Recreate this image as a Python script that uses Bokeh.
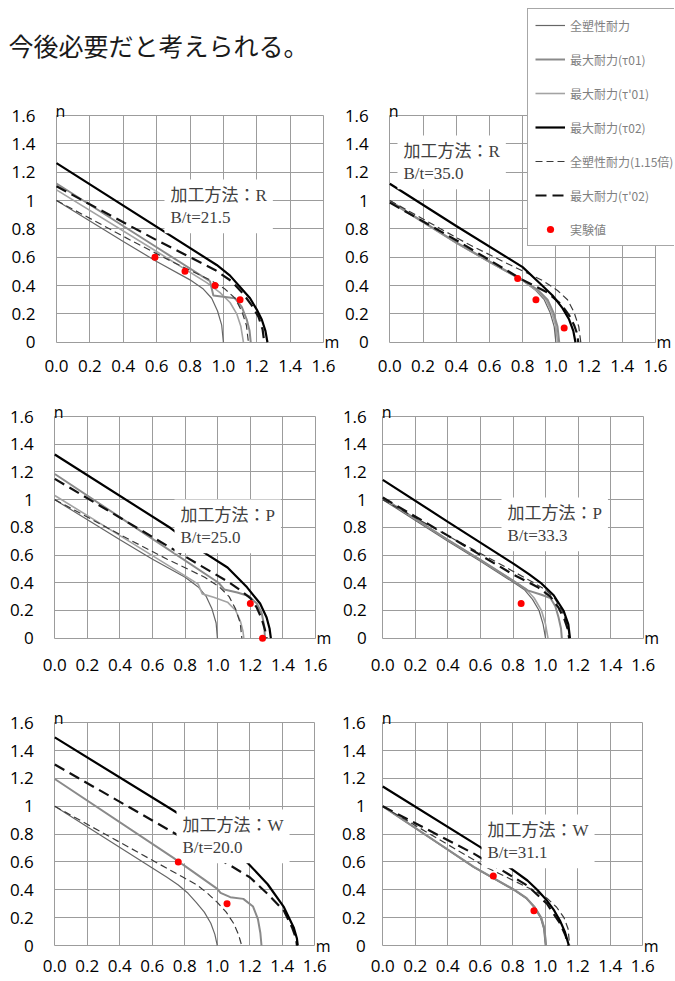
from bokeh.plotting import figure
from bokeh.models import Range1d, FixedTicker, Label, Legend, LegendItem
from bokeh.layouts import column, row
from bokeh.embed import file_html
from bokeh.resources import INLINE

# ---------------- tick labels / texts ----------------
TICKS = [0, 0.2, 0.4, 0.6, 0.8, 1.0, 1.2, 1.4, 1.6]
X_TICK_LABELS = ["0.0", "0.2", "0.4", "0.6", "0.8", "1.0", "1.2", "1.4", "1.6"]
Y_TICK_LABELS = ["0", "0.2", "0.4", "0.6", "0.8", "1", "1.2", "1.4", "1.6"]
SERIES_KEYS = ["full", "t01", "t01p", "t02", "full115", "t02p"]
LEGEND_LABELS = ["全塑性耐力", "最大耐力(τ01)", "最大耐力(τ'01)", "最大耐力(τ02)",
                 "全塑性耐力(1.15倍)", "最大耐力(τ'02)", "実験値"]
METHODS = ["R", "R", "P", "P", "W", "W"]
BT_VALUES = ["21.5", "35.0", "25.0", "33.3", "20.0", "31.1"]
TOP_TEXT = "今後必要だと考えられる。"

# ---------------- panel 1 : R, B/t=21.5 ----------------
p1_full_m = [0, 0.4, 0.6, 0.8, 0.88, 0.93, 0.965, 0.99, 1.0]
p1_full_n = [1.0, 0.71, 0.57, 0.44, 0.375, 0.31, 0.22, 0.12, 0]
p1_t01_m = [0, 0.6, 0.92, 0.94, 1.07, 1.11, 1.14, 1.157, 1.164]
p1_t01_n = [1.12, 0.67, 0.43, 0.33, 0.31, 0.25, 0.16, 0.08, 0]
p1_t01p_m = [0, 0.6, 0.9, 0.98, 1.04, 1.08, 1.105, 1.12]
p1_t01p_n = [1.075, 0.64, 0.42, 0.35, 0.28, 0.2, 0.11, 0]
p1_t02_m = [0, 0.96, 1.04, 1.1, 1.16, 1.2, 1.23, 1.252, 1.264]
p1_t02_n = [1.264, 0.545, 0.47, 0.39, 0.31, 0.23, 0.16, 0.08, 0]
p1_full115_m = [0, 0.46, 0.69, 0.92, 1.01, 1.07, 1.11, 1.138, 1.15]
p1_full115_n = [1.0, 0.71, 0.57, 0.44, 0.375, 0.31, 0.22, 0.12, 0]
p1_t02p_m = [0, 0.6, 0.8, 0.95, 1.05, 1.12, 1.17, 1.21, 1.235, 1.245]
p1_t02p_n = [1.10, 0.72, 0.6, 0.51, 0.43, 0.34, 0.26, 0.18, 0.09, 0]
p1_exp_m = [0.59, 0.77, 0.95, 1.1]
p1_exp_n = [0.6, 0.5, 0.4, 0.3]

# ---------------- panel 2 : R, B/t=35.0 ----------------
p2_full_m = [0, 0.4, 0.6, 0.8, 0.88, 0.93, 0.965, 0.99, 1.0]
p2_full_n = [1.0, 0.70, 0.565, 0.435, 0.365, 0.3, 0.21, 0.11, 0]
p2_t01_m = [0, 0.4, 0.6, 0.8, 0.89, 0.95, 0.985, 1.01, 1.02]
p2_t01_n = [0.995, 0.705, 0.57, 0.44, 0.37, 0.3, 0.21, 0.11, 0]
p2_t01p_m = [0, 0.4, 0.6, 0.8, 0.885, 0.94, 0.975, 1.0, 1.01]
p2_t01p_n = [0.99, 0.70, 0.565, 0.435, 0.365, 0.3, 0.21, 0.11, 0]
p2_t02_m = [0, 0.4, 0.8, 0.9, 0.98, 1.04, 1.08, 1.105, 1.118]
p2_t02_n = [1.118, 0.82, 0.53, 0.42, 0.33, 0.24, 0.16, 0.08, 0]
p2_full115_m = [0, 0.46, 0.69, 0.92, 1.01, 1.07, 1.11, 1.138, 1.15]
p2_full115_n = [1.0, 0.70, 0.565, 0.435, 0.365, 0.3, 0.21, 0.11, 0]
p2_t02p_m = [0, 0.4, 0.8, 0.95, 1.03, 1.08, 1.11, 1.128, 1.135]
p2_t02p_n = [0.985, 0.72, 0.44, 0.35, 0.27, 0.19, 0.12, 0.06, 0]
p2_exp_m = [0.77, 0.88, 1.05]
p2_exp_n = [0.45, 0.3, 0.1]

# ---------------- panel 3 : P, B/t=25.0 ----------------
p3_full_m = [0, 0.4, 0.6, 0.8, 0.88, 0.93, 0.965, 0.99, 0.998]
p3_full_n = [1.0, 0.71, 0.57, 0.44, 0.37, 0.30, 0.21, 0.11, 0]
p3_t01_m = [0, 0.5, 1.005, 1.04, 1.12, 1.19, 1.24, 1.27, 1.285, 1.29]
p3_t01_n = [1.185, 0.795, 0.40, 0.352, 0.33, 0.305, 0.25, 0.18, 0.09, 0]
p3_t01p_m = [0, 0.4, 0.8, 0.88, 0.905, 0.975, 1.06, 1.11, 1.14, 1.155, 1.16]
p3_t01p_n = [1.03, 0.74, 0.45, 0.39, 0.32, 0.295, 0.26, 0.2, 0.12, 0.05, 0]
p3_t02_m = [0, 0.71, 0.9, 1.06, 1.18, 1.26, 1.30, 1.318, 1.326]
p3_t02_n = [1.326, 0.795, 0.63, 0.51, 0.367, 0.25, 0.15, 0.07, 0]
p3_full115_m = [0, 0.46, 0.69, 0.92, 1.01, 1.07, 1.11, 1.138, 1.148]
p3_full115_n = [1.0, 0.71, 0.57, 0.44, 0.37, 0.30, 0.21, 0.11, 0]
p3_t02p_m = [0, 0.6, 0.9, 1.06, 1.14, 1.2, 1.24, 1.27, 1.29, 1.3]
p3_t02p_n = [1.15, 0.73, 0.52, 0.41, 0.345, 0.29, 0.22, 0.14, 0.06, 0]
p3_exp_m = [1.2, 1.275]
p3_exp_n = [0.25, 0.0]

# ---------------- panel 4 : P, B/t=33.3 ----------------
p4_full_m = [0, 0.4, 0.6, 0.8, 0.87, 0.92, 0.96, 0.985, 1.0]
p4_full_n = [1.0, 0.70, 0.555, 0.405, 0.35, 0.28, 0.2, 0.1, 0]
p4_t01_m = [0, 0.4, 0.6, 0.8, 0.89, 0.97, 1.03, 1.06, 1.08, 1.095, 1.1]
p4_t01_n = [1.013, 0.71, 0.565, 0.415, 0.345, 0.315, 0.29, 0.23, 0.15, 0.07, 0]
p4_t01p_m = [0, 0.4, 0.6, 0.8, 0.88, 0.93, 0.975, 1.0, 1.015]
p4_t01p_n = [1.013, 0.71, 0.565, 0.415, 0.355, 0.29, 0.2, 0.1, 0]
p4_t02_m = [0, 0.4, 0.8, 0.9, 0.97, 1.05, 1.11, 1.14, 1.15]
p4_t02_n = [1.143, 0.84, 0.54, 0.46, 0.40, 0.31, 0.2, 0.1, 0]
p4_full115_m = [0, 0.46, 0.69, 0.92, 1.0, 1.06, 1.1, 1.133, 1.15]
p4_full115_n = [1.0, 0.70, 0.555, 0.405, 0.35, 0.28, 0.2, 0.1, 0]
p4_t02p_m = [0, 0.4, 0.8, 0.95, 1.03, 1.08, 1.115, 1.135, 1.145]
p4_t02p_n = [1.015, 0.74, 0.46, 0.37, 0.3, 0.22, 0.14, 0.07, 0]
p4_exp_m = [0.85]
p4_exp_n = [0.25]

# ---------------- panel 5 : W, B/t=20.0 ----------------
p5_full_m = [0, 0.69, 0.76, 0.82, 0.87, 0.92, 0.96, 0.985, 1.0]
p5_full_n = [1.0, 0.49, 0.435, 0.375, 0.31, 0.24, 0.16, 0.08, 0]
p5_t01_m = [0, 0.73, 1.0, 1.02, 1.08, 1.16, 1.22, 1.25, 1.265, 1.272]
p5_t01_n = [1.196, 0.63, 0.407, 0.378, 0.347, 0.335, 0.28, 0.19, 0.09, 0]
p5_t01p_m = []
p5_t01p_n = []
p5_t02_m = [0, 0.73, 1.0, 1.19, 1.31, 1.41, 1.47, 1.49, 1.495]
p5_t02_n = [1.495, 0.97, 0.77, 0.59, 0.44, 0.275, 0.13, 0.05, 0]
p5_full115_m = [0, 0.79, 0.875, 0.94, 1.0, 1.055, 1.1, 1.13, 1.15]
p5_full115_n = [1.0, 0.49, 0.435, 0.375, 0.31, 0.24, 0.16, 0.08, 0]
p5_t02p_m = [0, 0.71, 1.08, 1.2, 1.31, 1.41, 1.46, 1.485, 1.49]
p5_t02p_n = [1.30, 0.825, 0.575, 0.49, 0.37, 0.25, 0.13, 0.05, 0]
p5_exp_m = [0.76, 1.06]
p5_exp_n = [0.6, 0.3]

# ---------------- panel 6 : W, B/t=31.1 ----------------
p6_full_m = [0, 0.56, 0.81, 0.88, 0.93, 0.97, 0.99, 1.0]
p6_full_n = [1.0, 0.56, 0.395, 0.34, 0.275, 0.2, 0.12, 0]
p6_t01_m = [0, 0.56, 0.81, 0.885, 0.935, 0.975, 0.995, 1.005]
p6_t01_n = [1.0, 0.565, 0.4, 0.34, 0.275, 0.2, 0.12, 0]
p6_t01p_m = [0, 0.56, 0.81, 0.885, 0.935, 0.975, 0.995, 1.005]
p6_t01p_n = [1.0, 0.565, 0.4, 0.34, 0.275, 0.2, 0.12, 0]
p6_t02_m = [0, 0.6, 0.745, 0.89, 0.95, 1.01, 1.05, 1.09, 1.12, 1.145]
p6_t02_n = [1.142, 0.707, 0.59, 0.467, 0.40, 0.323, 0.26, 0.18, 0.1, 0]
p6_full115_m = [0, 0.64, 0.93, 1.01, 1.07, 1.115, 1.14, 1.15]
p6_full115_n = [1.0, 0.56, 0.395, 0.34, 0.275, 0.2, 0.12, 0]
p6_t02p_m = [0, 0.56, 0.72, 0.89, 1.01, 1.09, 1.125, 1.14]
p6_t02p_n = [1.0, 0.66, 0.55, 0.43, 0.30, 0.16, 0.07, 0]
p6_exp_m = [0.68, 0.93]
p6_exp_n = [0.5, 0.25]

G = globals()
PANEL_DATA = []
for i in range(1, 7):
    d = {k: (G[f"p{i}_{k}_m"], G[f"p{i}_{k}_n"]) for k in SERIES_KEYS}
    d["exp"] = (G[f"p{i}_exp_m"], G[f"p{i}_exp_n"])
    PANEL_DATA.append(d)

# ---------------- styles ----------------
STYLES = {
    "full":    dict(line_color="#666666", line_width=1.2, line_dash="solid"),
    "t01":     dict(line_color="#8a8a8a", line_width=2.0, line_dash="solid"),
    "t01p":    dict(line_color="#a3a3a3", line_width=1.6, line_dash="solid"),
    "t02":     dict(line_color="#000000", line_width=2.2, line_dash="solid"),
    "full115": dict(line_color="#3a3a3a", line_width=1.2, line_dash="7 4"),
    "t02p":    dict(line_color="#111111", line_width=2.2, line_dash="11 6"),
}
GRID_COLOR = "#9c9c9c"
TICK_FONT = "Open Sans"
BOX_FONT = "Liberation Serif, Noto Sans CJK JP"

# page-pixel geometry
CANVAS = [(0, 0, 340, 390), (340, 0, 334, 390),
          (0, 390, 340, 310), (340, 390, 334, 310),
          (0, 700, 340, 280), (340, 700, 334, 280)]
# plot area of the 0..1.6 square: x_left, x_right, y_top, y_bottom
PLOT_AREA = [(56, 323, 115, 341.7), (389.3, 655, 115, 341.7),
             (54.3, 315, 416, 637.7), (382.3, 642.7, 416, 637.7),
             (54.3, 314.3, 722.3, 945), (382.3, 642.3, 722.3, 945)]
Y_STANDOFF = [21, 21, 21, 16, 21, 17]
X_STANDOFF = [18, 18, 21, 21, 14, 14]
BOX_PAD = 6
# top-left corner of each white text box (page px)
BOX_ANCHOR = [(164, 179), (397, 135), (174, 499), (501, 497), (176, 809), (481, 814)]


def make_panel(idx):
    cl, ct, w, h = CANVAS[idx]
    x0, x1, yt, yb = PLOT_AREA[idx]
    sx = (x1 - x0) / 1.6
    sy = (yb - yt) / 1.6
    xr = Range1d(-(x0 - cl) / sx, 1.6 + (cl + w - x1) / sx)
    yr = Range1d(-(ct + h - yb) / sy, 1.6 + (yt - ct) / sy)
    p = figure(width=w, height=h, x_range=xr, y_range=yr,
               output_backend="svg", toolbar_location=None, title=None,
               min_border=0, min_border_left=0, min_border_right=0,
               min_border_top=0, min_border_bottom=0,
               background_fill_color="white", border_fill_color="white",
               outline_line_color=None)
    for ax, labels, stand in ((p.xaxis[0], X_TICK_LABELS, X_STANDOFF[idx]),
                              (p.yaxis[0], Y_TICK_LABELS, Y_STANDOFF[idx])):
        ax.fixed_location = 0
        ax.bounds = (0, 1.6)
        ax.ticker = FixedTicker(ticks=TICKS)
        ax.major_label_overrides = {t: l for t, l in zip(TICKS, labels)}
        ax.axis_line_color = None
        ax.major_tick_line_color = None
        ax.minor_tick_line_color = None
        ax.major_tick_out = 0
        ax.major_tick_in = 0
        ax.major_label_standoff = stand
        ax.major_label_text_font = TICK_FONT
        ax.major_label_text_font_size = "17px"
        ax.major_label_text_color = "#000000"
    native = True
    for g in (p.xgrid[0], p.ygrid[0]):
        g.ticker = FixedTicker(ticks=TICKS)
        g.grid_line_color = GRID_COLOR
        g.grid_line_width = 1
        g.bounds = (0, 1.6)
        try:
            g.cross_bounds = (0, 1.6)
        except Exception:
            native = False
    if not native:
        for g in (p.xgrid[0], p.ygrid[0]):
            g.visible = False
        zeros = [0] * len(TICKS)
        tops = [1.6] * len(TICKS)
        p.segment(TICKS, zeros, TICKS, tops, line_color=GRID_COLOR, line_width=1)
        p.segment(zeros, TICKS, tops, TICKS, line_color=GRID_COLOR, line_width=1)

    data = PANEL_DATA[idx]
    rends = {}
    for key in ["full", "t01p", "t01", "full115", "t02p", "t02"]:
        m, n = data[key]
        if len(m) == 0:
            continue
        rends[key] = p.line(m, n, **STYLES[key])
    em, en = data["exp"]
    rends["exp"] = p.scatter(em, en, size=7, marker="circle",
                             fill_color="#ff0000", line_color=None, level="overlay")

    ax_, ay_ = BOX_ANCHOR[idx]
    p.add_layout(Label(x=ax_ - cl, y=ct + h - ay_,
                       x_units="screen", y_units="screen",
                       text=f"加工方法：{METHODS[idx]}\nB/t={BT_VALUES[idx]}",
                       text_font=BOX_FONT, text_font_size="17px", text_color="#404040",
                       text_align="left", text_baseline="top",
                       background_fill_color="white", background_fill_alpha=1.0,
                       padding=BOX_PAD))
    p.add_layout(Label(x=0, y=1.6, x_offset=-1, y_offset=5, text="n",
                       text_font=TICK_FONT, text_font_size="16px", text_color="#000000",
                       text_align="left", text_baseline="alphabetic"))
    p.add_layout(Label(x=1.6, y=0, x_offset=1, y_offset=0, text="m",
                       text_font=TICK_FONT, text_font_size="16px", text_color="#000000",
                       text_align="left", text_baseline="alphabetic"))
    return p, rends


panels = []
all_rends = []
for i in range(6):
    p, r = make_panel(i)
    panels.append(p)
    all_rends.append(r)

# paragraph line above the charts (inside panel 1's canvas)
panels[0].add_layout(Label(x=8, y=364, x_units="screen", y_units="screen",
                           text=TOP_TEXT, text_font="Noto Sans CJK JP",
                           text_font_size="25px", text_color="#1a1a1a",
                           text_align="left", text_baseline="top"))

# legend drawn over panel 2
legend_keys = ["full", "t01", "t01p", "t02", "full115", "t02p", "exp"]
items = [LegendItem(label=lab, renderers=[all_rends[1][k]])
         for lab, k in zip(LEGEND_LABELS, legend_keys)]
legend = Legend(items=items, location=(187, 144), orientation="vertical",
                label_text_font="Noto Sans CJK JP", label_text_font_size="12px",
                label_text_color="#7f7f7f", glyph_width=30, glyph_height=18,
                label_height=18, spacing=16, padding=7, margin=0, label_standoff=5,
                border_line_color="#505050", border_line_width=1.2,
                background_fill_color="white", background_fill_alpha=1.0)
panels[1].add_layout(legend)

layout = column(row(panels[0], panels[1], spacing=0),
                row(panels[2], panels[3], spacing=0),
                row(panels[4], panels[5], spacing=0), spacing=0)

open("out.html", "w").write(file_html(layout, INLINE))
